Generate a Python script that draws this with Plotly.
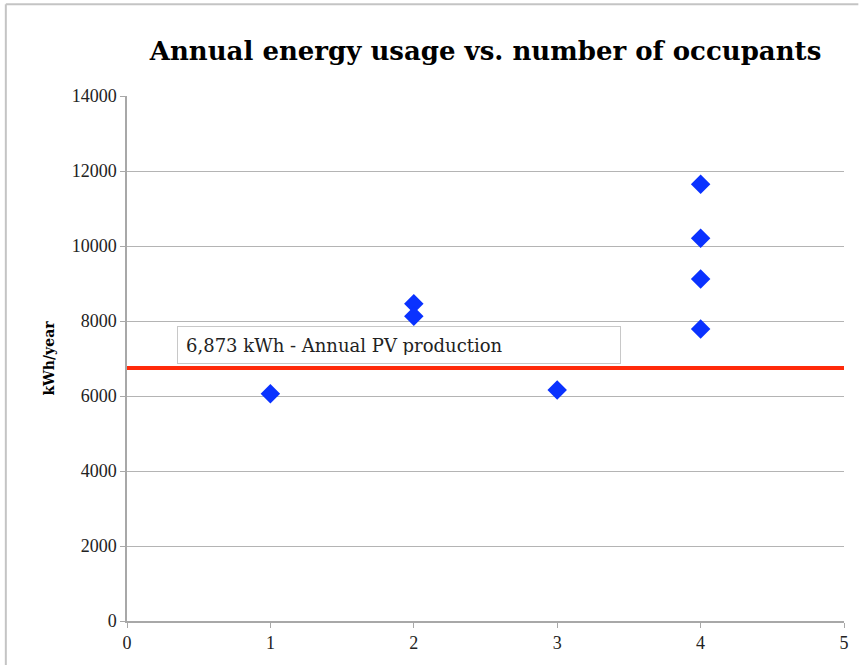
import plotly.graph_objects as go

# Data
occupants = [1, 2, 2, 3, 4, 4, 4, 4]
energy_kwh = [6060, 8460, 8130, 6160, 11650, 10210, 9120, 7790]
pv_production = 6750  # drawn position of the red reference line
pv_label = "6,873 kWh - Annual PV production"

title_text = "Annual energy usage vs. number of occupants"
y_title = "kWh/year"
x_ticks = [0, 1, 2, 3, 4, 5]
y_ticks = [0, 2000, 4000, 6000, 8000, 10000, 12000, 14000]

SERIF = "Liberation Serif, Times New Roman, serif"
WIDE_SERIF = "DejaVu Serif, serif"

fig = go.Figure()
fig.add_trace(go.Scatter(
    x=occupants, y=energy_kwh, mode="markers",
    marker=dict(symbol="diamond", size=15, color="#0a32ff",
                line=dict(width=0)),
    showlegend=False, cliponaxis=False,
))

fig.update_layout(
    width=861, height=665,
    paper_bgcolor="white", plot_bgcolor="white",
    margin=dict(l=127, r=13, t=96, b=44),
    title=dict(text=f"<b>{title_text}</b>", x=0.5, xref="paper",
               y=0.924, yref="container", yanchor="middle",
               font=dict(family=WIDE_SERIF, size=26, color="black")),
    xaxis=dict(range=[0, 5], tickvals=x_ticks,
               ticktext=[str(v) for v in x_ticks], showgrid=False,
               showline=True, linecolor="#a8a8a8", linewidth=1.5,
               ticks="outside", ticklen=5, tickcolor="#a8a8a8",
               zeroline=False,
               tickfont=dict(family=SERIF, size=18, color="#222")),
    yaxis=dict(range=[0, 14000], tickvals=y_ticks,
               ticktext=[str(v) for v in y_ticks], showgrid=True,
               gridcolor="#b4b4b4", gridwidth=1.2,
               showline=True, linecolor="#a8a8a8", linewidth=1.5,
               ticks="outside", ticklen=5, tickcolor="#a8a8a8",
               zeroline=False,
               tickfont=dict(family=SERIF, size=18, color="#222")),
    shapes=[
        # frame lines of the original picture
        dict(type="line", xref="paper", yref="paper", x0=-0.169, x1=1.02,
             y0=1.175, y1=1.175, line=dict(color="#c4c4c4", width=2)),
        dict(type="line", xref="paper", yref="paper", x0=-0.169, x1=-0.169,
             y0=-0.09, y1=1.175, line=dict(color="#c4c4c4", width=2)),
        # PV production line
        dict(type="line", xref="x", yref="y", x0=0, x1=5,
             y0=pv_production, y1=pv_production,
             line=dict(color="#ff2a0a", width=4)),
    ],
    annotations=[
        dict(text=pv_label, xref="x", yref="y", x=0.348,
             y=7350, xanchor="left", yanchor="middle", showarrow=False,
             align="left", width=426, height=20, borderpad=8,
             bordercolor="#c8c8c8", borderwidth=1, bgcolor="white",
             font=dict(family=WIDE_SERIF, size=18, color="#222")),
    ],
)
fig.update_yaxes(title=dict(text=f"<b>{y_title}</b>", standoff=14,
                            font=dict(family=WIDE_SERIF, size=14, color="black")))

fig.write_html("out.html",
               config={"displayModeBar": False},
               post_script="document.body.style.margin='0';"
                           "document.body.style.overflow='hidden';")
